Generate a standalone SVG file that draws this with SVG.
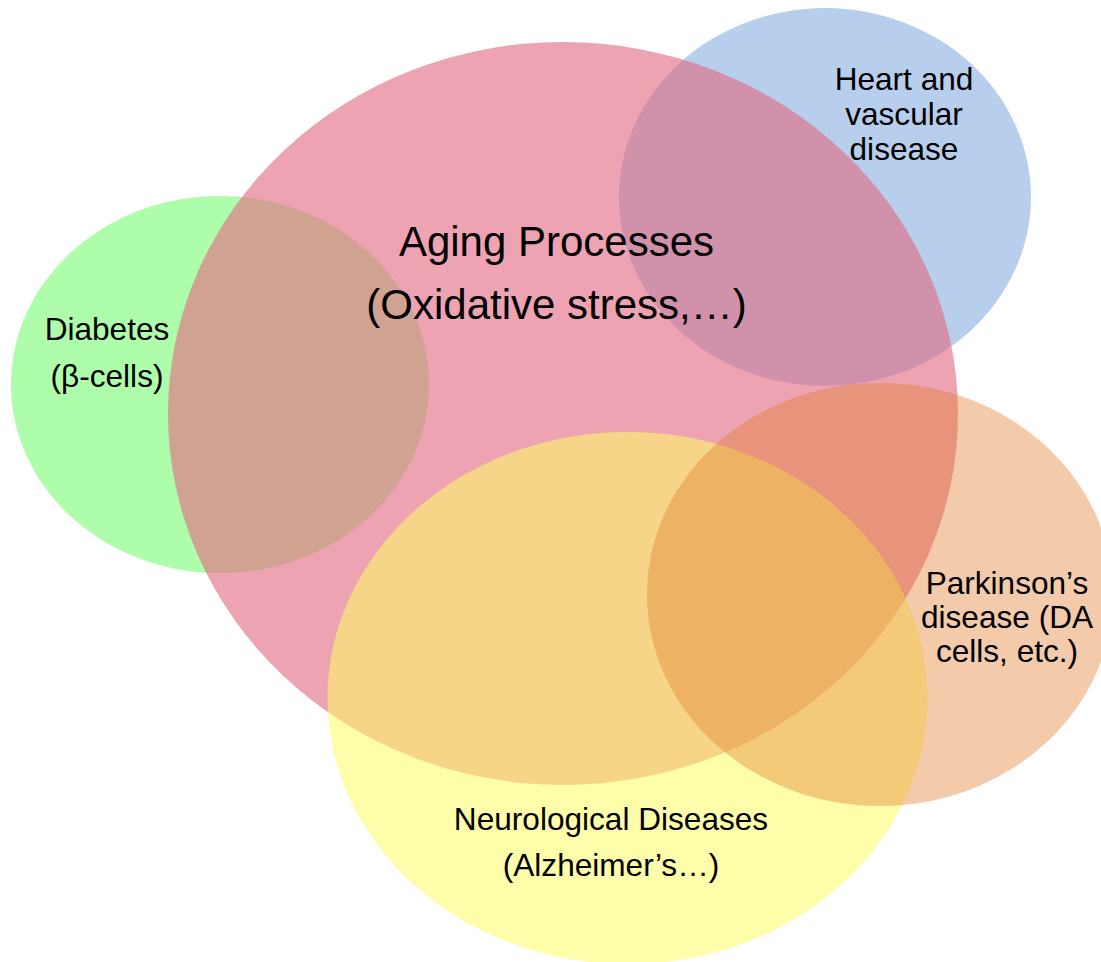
<svg xmlns="http://www.w3.org/2000/svg" width="1101" height="962" viewBox="0 0 1101 962">
  <style>
    text { font-family: "Liberation Sans", Arial, sans-serif; fill: #000; text-anchor: middle; }
    .big { font-size: 42px; }
    .lbl { font-size: 31.6px; }
    .green { fill: #aefdaa; }
    .blue { fill: #b7cfed; }
    .pink { fill: #e26d83; fill-opacity: 0.63; }
    .yellow { fill: #fdfb6a; fill-opacity: 0.57; }
    .orange { fill: #e17d2d; fill-opacity: 0.4; }
  </style>
  <rect width="1101" height="962" fill="#ffffff"/>
  <g id="diabetes">
    <ellipse class="green" cx="220" cy="384.5" rx="209" ry="188.5"/>
    <text class="lbl" x="107" y="340">Diabetes</text>
    <text class="lbl" x="107" y="387">(β-cells)</text>
  </g>
  <g id="heart">
    <ellipse class="blue" cx="825" cy="197" rx="206" ry="189"/>
    <text class="lbl" x="904" y="90">Heart and</text>
    <text class="lbl" x="904" y="125">vascular</text>
    <text class="lbl" x="904" y="160">disease</text>
  </g>
  <g id="aging">
    <ellipse class="pink" cx="563" cy="413.5" rx="395" ry="371.5"/>
    <text class="big" x="556.5" y="256">Aging Processes</text>
    <text class="big" x="556.5" y="319">(Oxidative stress,…)</text>
  </g>
  <g id="neurological">
    <ellipse class="yellow" cx="627.5" cy="698" rx="300" ry="266"/>
    <text class="lbl" x="611" y="830">Neurological Diseases</text>
    <text class="lbl" x="611" y="876">(Alzheimer’s…)</text>
  </g>
  <g id="parkinsons">
    <ellipse class="orange" cx="880" cy="594.5" rx="233" ry="211.5"/>
    <text class="lbl" x="1007" y="594">Parkinson’s</text>
    <text class="lbl" x="1007" y="628">disease (DA</text>
    <text class="lbl" x="1007" y="662">cells, etc.)</text>
  </g>
</svg>
